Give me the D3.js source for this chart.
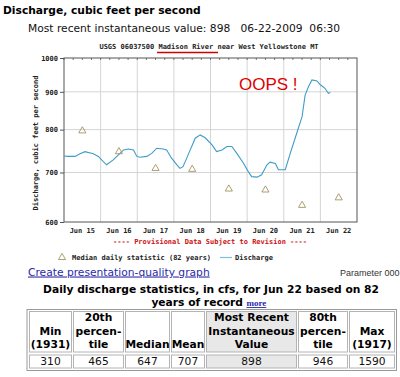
<!DOCTYPE html>
<meta charset="utf-8">
<head>
<script src="https://d3js.org/d3.v7.min.js"></script>
<style>
  body { margin: 0; background: #fff; }
  svg { display: block; }
</style>
</head>
<body>
<div id="chart"></div>
<script>

  // ---- data ----
  var siteTitle = "USGS 06037500 Madison River near West Yellowstone MT";
  var dayLabels = ["Jun 15", "Jun 16", "Jun 17", "Jun 18", "Jun 19", "Jun 20", "Jun 21", "Jun 22"];
  var yTicks = [600, 700, 800, 900, 1000];

  // 15-minute discharge, sampled at the turning points of the trace
  var flowTimes = [
    "06-15 00:00", "06-15 02:45", "06-15 07:15", "06-15 10:30", "06-15 13:45", "06-15 19:15", "06-15 22:30",
    "06-16 01:45", "06-16 04:00", "06-16 08:15", "06-16 11:30", "06-16 15:00", "06-16 18:15", "06-16 21:30", "06-16 23:45",
    "06-17 01:45", "06-17 06:15", "06-17 09:30", "06-17 12:45", "06-17 17:00", "06-17 19:15", "06-17 22:30",
    "06-18 02:00", "06-18 04:00", "06-18 06:00", "06-18 09:15", "06-18 14:00", "06-18 17:15", "06-18 20:30",
    "06-19 01:00", "06-19 04:00", "06-19 07:30", "06-19 10:45", "06-19 14:00", "06-19 17:15", "06-19 21:30",
    "06-20 00:45", "06-20 03:00", "06-20 06:30", "06-20 09:30", "06-20 13:00", "06-20 15:00", "06-20 18:30", "06-20 20:30",
    "06-21 01:00", "06-21 04:15", "06-21 08:30", "06-21 12:00", "06-21 14:00", "06-21 16:15", "06-21 18:30", "06-21 21:45",
    "06-22 00:00", "06-22 03:00", "06-22 05:15", "06-22 06:30"
  ];
  var flowValues = [
    737, 736, 736, 742, 747, 742, 736,
    724, 717, 728, 739, 751, 753, 751, 736,
    734, 736, 743, 755, 753, 751, 732,
    717, 709, 713, 739, 779, 787, 780,
    763, 747, 751, 759, 759, 743, 721,
    702, 691, 690, 695, 717, 723, 720, 706,
    706, 743, 791, 833, 891, 915, 934, 931,
    920, 910, 896, 898
  ];

  // median daily statistic (82 years), one per day
  var medianDays = ["06-15", "06-16", "06-17", "06-18", "06-19", "06-20", "06-21", "06-22"];
  var medianValues = [797, 747, 709, 707, 665, 663, 632, 647];

  // statistics table
  var statHeaders = [
    ["Min", "(1931)"],
    ["20th", "percen-", "tile"],
    ["Median"],
    ["Mean"],
    ["Most Recent", "Instantaneous", "Value"],
    ["80th", "percen-", "tile"],
    ["Max", "(1917)"]
  ];
  var statValues = [310, 465, 647, 707, 898, 946, 1590];

  // ---- drawing ----
  var W = 400, H = 377;
  var sans = "'DejaVu Sans', Verdana, sans-serif";
  var mono = "'DejaVu Sans Mono', monospace";

  var svg = d3.select("#chart").append("svg")
    .attr("width", W)
    .attr("height", H);

  var parseTime = d3.timeParse("%Y-%m-%d %H:%M");
  var parseDay = d3.timeParse("%Y-%m-%d");

  var flow = flowTimes.map(function(t, i) {
    return { date: parseTime("2009-" + t), value: flowValues[i] };
  });
  var medians = medianDays.map(function(d, i) {
    return { date: d3.timeHour.offset(parseDay("2009-" + d), 12), value: medianValues[i] };
  });

  var x = d3.scaleTime()
    .domain([parseDay("2009-06-15"), parseDay("2009-06-23")])
    .range([64, 357]);

  var y = d3.scaleLog()
    .domain([600, 1000])
    .range([222, 58]);

  // headings
  svg.append("text")
    .attr("x", 3).attr("y", 13.5)
    .style("font", "bold 10.7px " + sans)
    .text("Discharge, cubic feet per second");

  svg.append("text")
    .attr("x", 28).attr("y", 32)
    .style("font", "10.7px " + sans)
    .attr("fill", "#111")
    .attr("xml:space", "preserve")
    .text("Most recent instantaneous value: 898   06-22-2009  06:30");

  svg.append("text")
    .attr("x", 209).attr("y", 49)
    .attr("text-anchor", "middle")
    .style("font", "bold 7px " + mono)
    .attr("fill", "#222")
    .text(siteTitle);

  svg.append("line")
    .attr("x1", 157).attr("x2", 218)
    .attr("y1", 52.5).attr("y2", 52.5)
    .attr("stroke", "#d40000")
    .attr("stroke-width", 1.6);

  // grid
  var plot = svg.append("g");

  plot.selectAll(".vgrid")
    .data(d3.timeDay.range(parseDay("2009-06-16"), parseDay("2009-06-23")))
    .enter().append("line")
    .attr("x1", function(d) { return x(d); })
    .attr("x2", function(d) { return x(d); })
    .attr("y1", y(1000)).attr("y2", y(600))
    .attr("stroke", "#d4d4d4");

  plot.selectAll(".hgrid")
    .data([700, 800, 900])
    .enter().append("line")
    .attr("x1", x.range()[0]).attr("x2", x.range()[1])
    .attr("y1", function(d) { return y(d); })
    .attr("y2", function(d) { return y(d); })
    .attr("stroke", "#d4d4d4");

  // minor ticks along the top frame
  plot.selectAll(".mtick")
    .data(d3.timeHour.every(6).range(parseDay("2009-06-15"), parseDay("2009-06-23")))
    .enter().append("line")
    .attr("x1", function(d) { return x(d); })
    .attr("x2", function(d) { return x(d); })
    .attr("y1", y(1000)).attr("y2", y(1000) + 2)
    .attr("stroke", "#777");

  // frame
  plot.append("rect")
    .attr("x", x.range()[0]).attr("y", y(1000))
    .attr("width", x.range()[1] - x.range()[0])
    .attr("height", y(600) - y(1000))
    .attr("fill", "none")
    .attr("stroke", "#555");

  // y axis
  var yAxis = d3.axisLeft(y)
    .tickValues(yTicks)
    .tickFormat(d3.format("d"))
    .tickSize(4)
    .tickPadding(2);

  var ya = svg.append("g")
    .attr("transform", "translate(" + x.range()[0] + ",0)")
    .call(yAxis);
  ya.select(".domain").remove();
  ya.selectAll("line").attr("stroke", "#555");
  ya.selectAll("text")
    .style("font", "bold 7px " + mono)
    .attr("fill", "#222");

  svg.append("text")
    .attr("transform", "translate(38,143) rotate(-90)")
    .attr("text-anchor", "middle")
    .style("font", "bold 7px " + mono)
    .attr("fill", "#222")
    .text("Discharge, cubic feet per second");

  // x labels centred on noon
  svg.selectAll(".xlab")
    .data(dayLabels)
    .enter().append("text")
    .attr("x", function(d, i) { return x(d3.timeHour.offset(parseDay("2009-06-15"), 24 * i + 12)); })
    .attr("y", 233)
    .attr("text-anchor", "middle")
    .style("font", "bold 7px " + mono)
    .attr("fill", "#222")
    .text(function(d) { return d; });

  // discharge line
  var line = d3.line()
    .x(function(d) { return x(d.date); })
    .y(function(d) { return y(d.value); });

  plot.append("path")
    .datum(flow)
    .attr("d", line)
    .attr("fill", "none")
    .attr("stroke", "#3f9cc8")
    .attr("stroke-width", 1.1);

  // median triangles
  var tri = d3.symbol().type(d3.symbolTriangle).size(22);

  plot.selectAll(".med")
    .data(medians)
    .enter().append("path")
    .attr("d", tri)
    .attr("transform", function(d) { return "translate(" + x(d.date) + "," + y(d.value) + ")"; })
    .attr("fill", "none")
    .attr("stroke", "#a39463")
    .attr("stroke-width", 0.9);

  svg.append("text")
    .attr("x", 239).attr("y", 90)
    .style("font", "17px 'Liberation Sans', Arial, sans-serif")
    .attr("fill", "#e00000")
    .text("OOPS !");

  svg.append("text")
    .attr("x", 210).attr("y", 243.5)
    .attr("text-anchor", "middle")
    .style("font", "bold 7px " + mono)
    .attr("fill", "#cc1111")
    .text("---- Provisional Data Subject to Revision ----");

  // legend
  svg.append("path")
    .attr("d", tri)
    .attr("transform", "translate(62,257.5)")
    .attr("fill", "none")
    .attr("stroke", "#a39463")
    .attr("stroke-width", 0.9);
  svg.append("text")
    .attr("x", 72).attr("y", 260)
    .style("font", "bold 7px " + mono)
    .attr("fill", "#222")
    .text("Median daily statistic (82 years)");
  svg.append("line")
    .attr("x1", 220).attr("x2", 232)
    .attr("y1", 257.5).attr("y2", 257.5)
    .attr("stroke", "#7fc0dc")
    .attr("stroke-width", 1.2);
  svg.append("text")
    .attr("x", 235).attr("y", 260)
    .style("font", "bold 7px " + mono)
    .attr("fill", "#222")
    .text("Discharge");

  // link + parameter
  svg.append("text")
    .attr("x", 28).attr("y", 275.5)
    .style("font", "10.7px " + sans)
    .style("text-decoration", "underline")
    .attr("fill", "#2a2aa8")
    .text("Create presentation-quality graph");

  svg.append("text")
    .attr("x", 399.5).attr("y", 275.5)
    .attr("text-anchor", "end")
    .style("font", "9px 'Liberation Sans', Arial, sans-serif")
    .attr("fill", "#333")
    .text("Parameter 000");

  // table caption
  svg.append("text")
    .attr("x", 211).attr("y", 293)
    .attr("text-anchor", "middle")
    .style("font", "bold 10.7px " + sans)
    .text("Daily discharge statistics, in cfs, for Jun 22 based on 82");

  svg.append("text")
    .attr("x", 243).attr("y", 306)
    .attr("text-anchor", "end")
    .style("font", "bold 10.7px " + sans)
    .text("years of record");

  svg.append("text")
    .attr("x", 246.5).attr("y", 306)
    .style("font", "bold 9px 'Liberation Serif', serif")
    .style("text-decoration", "underline")
    .attr("fill", "#2a2aa8")
    .text("more");

  // statistics table
  var colLeft = [29, 73, 125, 171, 206, 298, 349];
  var colRight = [72, 124, 170, 205, 297, 348, 395];
  var headTop = 311, headBottom = 352.5, rowTop = 354.5, rowBottom = 368.5;

  svg.append("rect")
    .attr("x", 27).attr("y", 309.5)
    .attr("width", 369.5).attr("height", 61)
    .attr("fill", "none")
    .attr("stroke", "#9a9a9a");

  var cols = svg.selectAll(".col")
    .data(statHeaders)
    .enter().append("g");

  cols.append("rect")
    .attr("x", function(d, i) { return colLeft[i] + 0.5; })
    .attr("y", headTop + 0.5)
    .attr("width", function(d, i) { return colRight[i] - colLeft[i] - 1; })
    .attr("height", headBottom - headTop - 1)
    .attr("fill", function(d, i) { return i === 4 ? "#e8e8e8" : "#fff"; })
    .attr("stroke", "#b4b4b4");

  cols.append("rect")
    .attr("x", function(d, i) { return colLeft[i] + 0.5; })
    .attr("y", rowTop + 0.5)
    .attr("width", function(d, i) { return colRight[i] - colLeft[i] - 1; })
    .attr("height", rowBottom - rowTop - 1)
    .attr("fill", function(d, i) { return i === 4 ? "#e8e8e8" : "#fff"; })
    .attr("stroke", "#b4b4b4");

  cols.each(function(lines, i) {
    var g = d3.select(this);
    var cx = (colLeft[i] + colRight[i]) / 2;
    lines.forEach(function(s, j) {
      g.append("text")
        .attr("x", cx)
        .attr("y", 348 - (lines.length - 1 - j) * 13.5)
        .attr("text-anchor", "middle")
        .style("font", "bold 10.7px " + sans)
        .text(s);
    });
    g.append("text")
      .attr("x", cx).attr("y", 365)
      .attr("text-anchor", "middle")
      .style("font", "10.7px " + sans)
      .attr("fill", "#111")
      .text(statValues[i]);
  });

</script>
</body>
